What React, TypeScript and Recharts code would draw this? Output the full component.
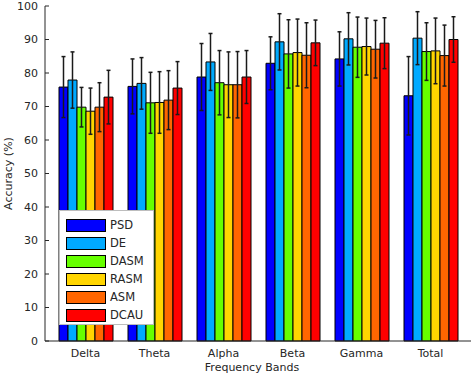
import React from "react";
import {
  BarChart,
  Bar,
  XAxis,
  YAxis,
  ErrorBar,
} from "recharts";

const categories = ["Delta", "Theta", "Alpha", "Beta", "Gamma", "Total"];

const psd = [75.8, 76.0, 78.8, 82.9, 84.2, 73.2];
const psdStd = [9.1, 8.2, 10.0, 7.9, 8.1, 11.7];
const de = [77.9, 76.9, 83.3, 89.3, 90.2, 90.4];
const deStd = [8.4, 7.7, 8.5, 8.4, 7.8, 7.9];
const dasm = [69.8, 71.1, 77.1, 85.7, 87.7, 86.4];
const dasmStd = [5.9, 9.1, 9.6, 10.2, 9.0, 8.6];
const rasm = [68.6, 71.2, 76.5, 86.1, 87.9, 86.6];
const rasmStd = [6.9, 9.2, 9.8, 10.0, 8.5, 9.8];
const asm = [69.8, 71.9, 76.5, 85.3, 87.1, 85.2];
const asmStd = [7.3, 8.8, 9.9, 9.7, 8.6, 9.1];
const dcau = [72.8, 75.5, 78.8, 89.0, 88.9, 90.0];
const dcauStd = [8.0, 7.9, 7.9, 6.8, 7.6, 6.8];

const yTicks = [0, 10, 20, 30, 40, 50, 60, 70, 80, 90, 100];

const series = [
  { key: "PSD", color: "#0000ff" },
  { key: "DE", color: "#00aaff" },
  { key: "DASM", color: "#66ff00" },
  { key: "RASM", color: "#ffd500" },
  { key: "ASM", color: "#ff6600" },
  { key: "DCAU", color: "#ff0000" },
];

const data = categories.map((name, i) => ({
  name,
  PSD: psd[i],
  PSDErr: psdStd[i],
  DE: de[i],
  DEErr: deStd[i],
  DASM: dasm[i],
  DASMErr: dasmStd[i],
  RASM: rasm[i],
  RASMErr: rasmStd[i],
  ASM: asm[i],
  ASMErr: asmStd[i],
  DCAU: dcau[i],
  DCAUErr: dcauStd[i],
}));

const FONT = "'DejaVu Sans', sans-serif";
const INK = "#262626";

// legend drawn as an overlay so it doesn't eat into the plot area
function LegendBox() {
  return (
    <div
      style={{
        position: "absolute",
        left: 59,
        top: 210,
        background: "white",
        border: "1px solid #bdbdbd",
        width: 95,
        height: 115,
        boxSizing: "border-box",
        padding: "5px 0 0 6px",
        fontFamily: FONT,
        fontSize: 11.5,
        color: INK,
      }}
    >
      {series.map((s) => (
        <div key={s.key} style={{ display: "flex", alignItems: "center", height: 18 }}>
          <div
            style={{
              width: 40,
              height: 13,
              background: s.color,
              border: "1px solid #000",
              boxSizing: "border-box",
              marginRight: 4,
            }}
          />
          <span>{s.key}</span>
        </div>
      ))}
    </div>
  );
}

export default function App() {
  return (
    <div style={{ position: "absolute", left: 0, top: 0, width: 471, height: 376, background: "white" }}>
      <BarChart
        width={471}
        height={376}
        data={data}
        margin={{ top: 6, right: 0, bottom: 5, left: 0 }}
        barCategoryGap={8}
        barGap={0}
      >
        <XAxis
          dataKey="name"
          padding={{ left: 6, right: 6 }}
          tickLine={false}
          stroke={INK}
          tick={{ fontSize: 11, fill: INK, fontFamily: FONT }}
          label={{ value: "Frequency Bands", position: "insideBottom", offset: 0, dx: -6, fontSize: 11, fill: INK, fontFamily: FONT }}
        />
        <YAxis
          width={45}
          domain={[0, 100]}
          ticks={yTicks}
          interval={0}
          tickSize={-4}
          tickMargin={11}
          stroke={INK}
          tick={{ fontSize: 11, fill: INK, fontFamily: FONT }}
          label={{ value: "Accuracy (%)", angle: -90, position: "insideLeft", offset: 8, fontSize: 11, fill: INK, fontFamily: FONT, style: { textAnchor: "middle" } }}
        />
        {series.map((s) => (
          <Bar
            key={s.key}
            dataKey={s.key}
            fill={s.color}
            stroke="#000"
            strokeWidth={1}
            isAnimationActive={false}
          >
            <ErrorBar dataKey={`${s.key}Err`} width={2} stroke="#1a1a1a" strokeWidth={1.5} direction="y" />
          </Bar>
        ))}
      </BarChart>
      <LegendBox />
    </div>
  );
}
